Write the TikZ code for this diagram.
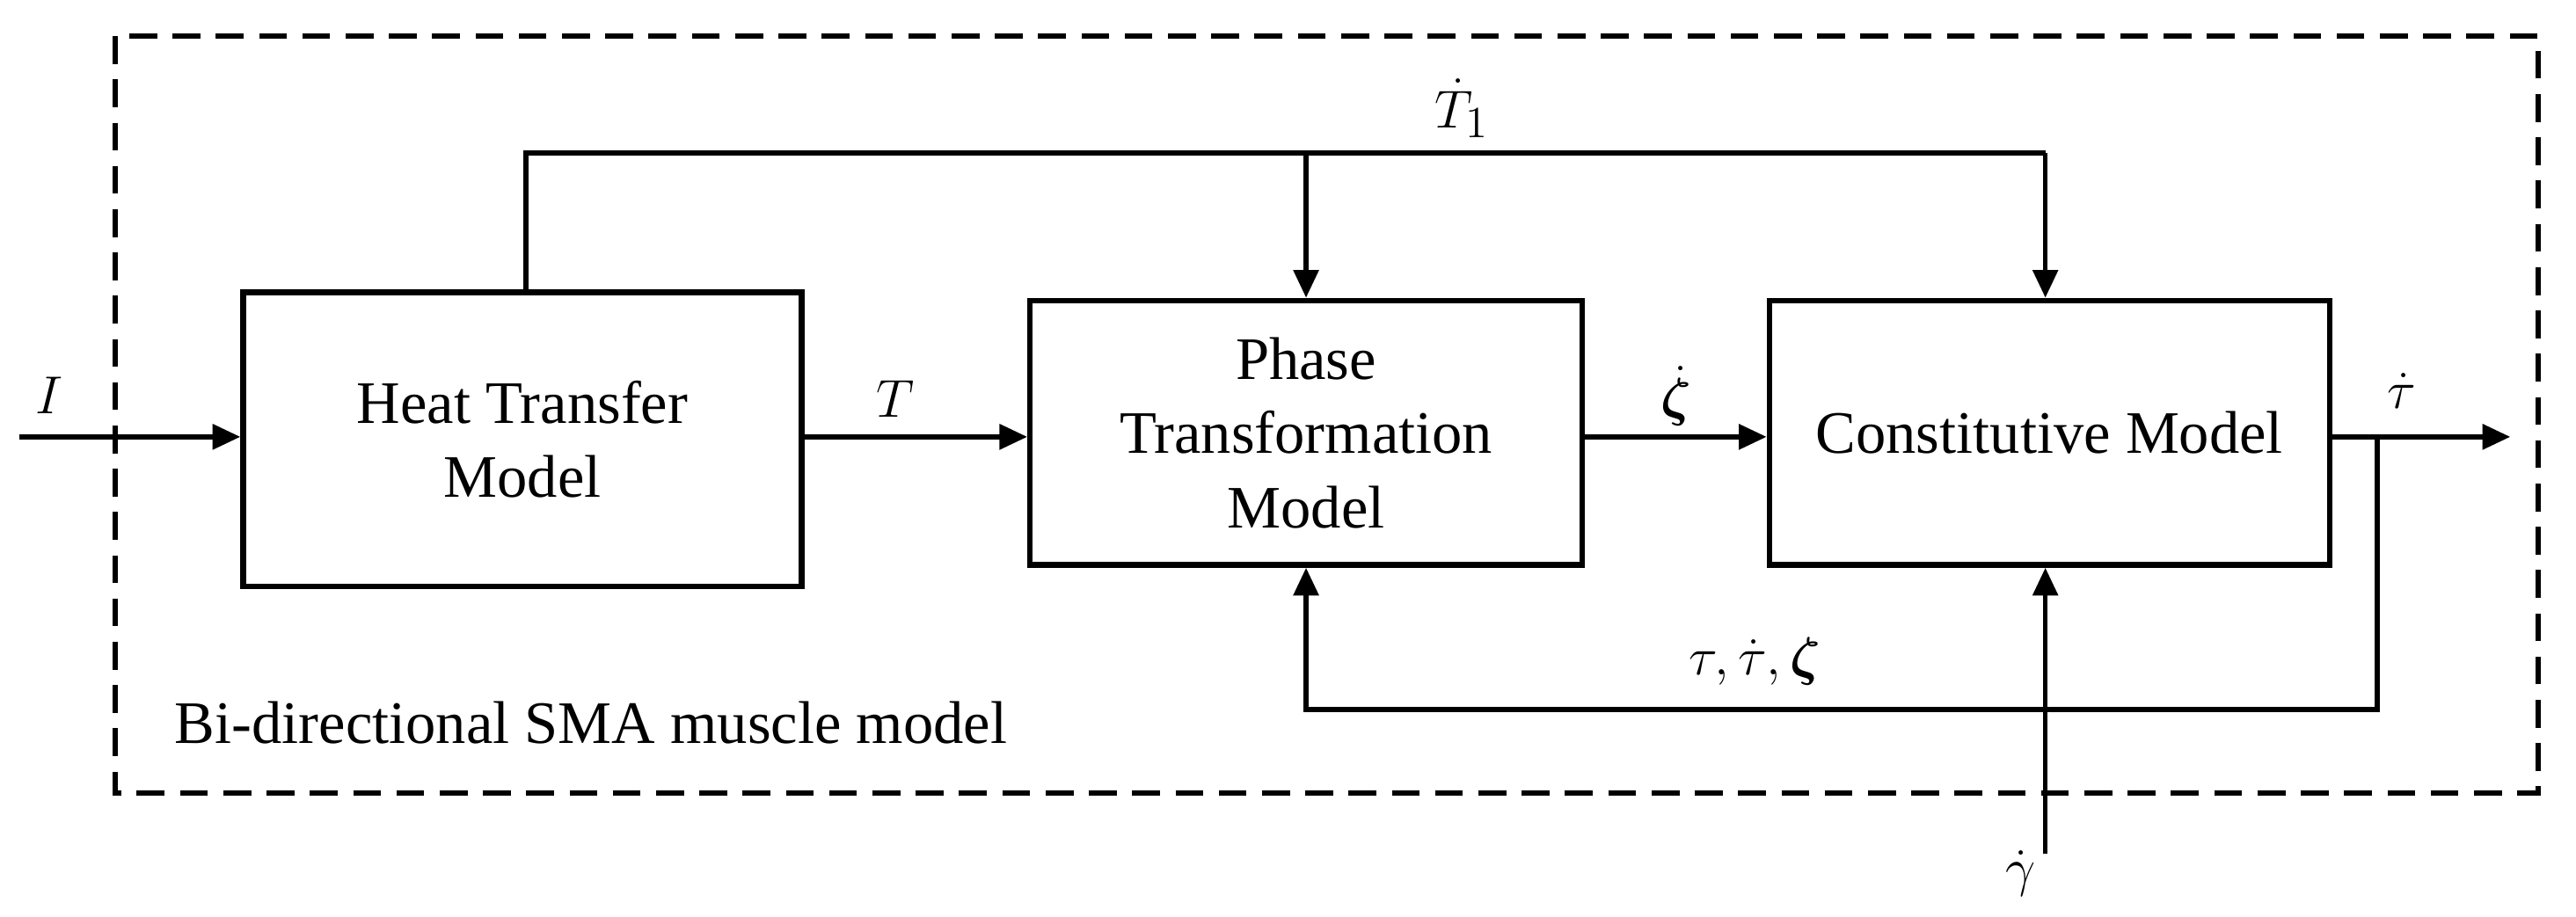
\documentclass[tikz,border=0pt]{standalone}
\usepackage{fontspec}
\usepackage{amsmath,bm}
\setmainfont{Liberation Serif}
\usetikzlibrary{arrows.meta}
\begin{document}
\begin{tikzpicture}[x=0.01868cm,y=-0.01868cm,
  line width=1.6pt,
  every node/.style={font=\fontsize{19.5}{24}\selectfont},
  blk/.style={draw,line width=1.8pt,align=center,inner sep=0pt},
  arr/.style={-{Triangle[length=9pt,width=8pt]}},
  lbl/.style={font=\fontsize{19}{22}\selectfont,inner sep=1pt}]
\useasboundingbox (0,0) rectangle (1568,558);
\draw[dashed,line width=1.8pt,dash pattern=on 9pt off 5pt] (70,22) rectangle (1545,483);
\node[blk,minimum width=340*0.01868cm,minimum height=179*0.01868cm] (heat) at (318,267.5) {Heat Transfer\\Model};
\node[blk,minimum width=336*0.01868cm,minimum height=161*0.01868cm] (phase) at (795,263.5) {Phase\\Transformation\\Model};
\node[blk,minimum width=341*0.01868cm,minimum height=161*0.01868cm] (cons) at (1247.5,263.5) {Constitutive Model};
\coordinate (in) at (12,266);
\coordinate (out) at (1528,266);
\coordinate (tl) at (320,93);
\coordinate (tm) at (795,93);
\coordinate (tr) at (1245,93);
\coordinate (fb) at (1447,266);
\coordinate (fb1) at (1447,432);
\coordinate (fb2) at (795,432);
\coordinate (gin) at (1245,520);
\draw[arr] (in) -- (heat.west|-in);
\node[lbl] at (30,241) {$I$};
\draw (tl|-heat.north) -- (tl) -- (tr);
\draw[arr] (tm) -- (phase.north);
\draw[arr] (tr) -- (tr|-cons.north);
\node[lbl] at (890,66) {$\dot{T}_1$};
\draw[arr] (heat.east|-in) -- (phase.west|-in);
\node[lbl] at (545,243) {$T$};
\draw[arr] (phase.east|-in) -- (cons.west|-in);
\node[lbl] at (1020,241) {$\dot{\bm{\zeta}}$};
\draw[arr] (cons.east|-out) -- (out);
\node[lbl] at (1462,238) {$\dot{\tau}$};
\draw[arr] (fb) -- (fb1) -- (fb2) -- (phase.south);
\node[lbl] at (1068,403) {$\tau,\dot{\tau},\bm{\zeta}$};
\draw[arr] (gin) -- (gin|-cons.south);
\node[lbl] at (1230,532) {$\dot{\gamma}$};
\node[anchor=west,inner sep=0pt] at (105,440) {Bi-directional SMA muscle model};
\end{tikzpicture}
\end{document}
